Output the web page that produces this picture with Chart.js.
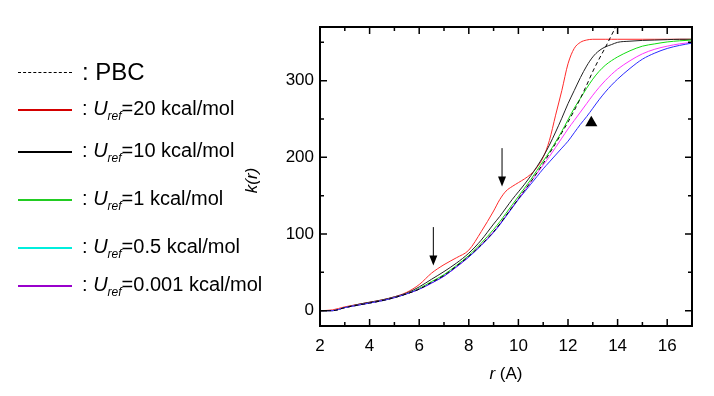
<!DOCTYPE html>
<html>
<head>
<meta charset="utf-8">
<script src="https://cdn.jsdelivr.net/npm/chart.js@4"></script>
<style>
  html, body { margin: 0; padding: 0; background: #fff; }
  #wrap { position: relative; width: 714px; height: 396px; }
  #chart { position: absolute; left: 0; top: 0; }
  .leg { position: absolute; left: 18px; display: flex; align-items: center; height: 26px;
         font-family: "Liberation Sans", Arial, sans-serif; font-size: 20px; color: #000; white-space: nowrap; }
  .leg .sw { width: 54px; height: 0; border-top: 2px solid; margin-right: 10px; }
  .leg .sw.dash { border-top: 1px dashed #000; }
  .leg i sub { font-size: 12px; vertical-align: -5px; }
</style>
</head>
<body>
<div id="wrap">
  <canvas id="chart" width="714" height="396"></canvas>
  <div id="legend"></div>
</div>
<script>
// k(r) curves for different U_ref values

const rValues = [2, 2.5, 3, 3.5, 4, 4.5, 5, 5.5, 6, 6.5, 7, 7.5, 8, 8.5, 9,
  9.25, 9.5, 9.75, 10, 10.25, 10.5, 10.75, 11, 11.25, 11.5, 11.75, 12, 12.25, 12.5, 12.75,
  13, 13.25, 13.5, 13.75, 14, 14.5, 15, 15.5, 16, 16.5, 17];

const kPBC = [0, 0, 4, 7, 10, 13, 17, 22, 28, 37, 46, 58, 71, 86, 103,
  113, 124, 135, 146, 157, 168, 180, 192, 205, 218, 232, 246, 261, 277, 294,
  312, 328, 343, 359, 375, null, null, null, null, null, null];
const kU20 = [0, 1, 5, 8, 11, 14, 18, 24, 34, 49, 60, 69, 79, 103, 130,
  145, 156, 162, 167, 172, 178, 187, 200, 222, 255, 287, 322, 342, 350, 353,
  354, 354, 354, 354, 354, 354, 354, 354, 354, 354, 354];
const kU10 = [0, 0, 4, 8, 11, 14, 18, 23, 31, 41, 51, 62, 75, 92, 113,
  123, 134, 145, 155, 165, 176, 188, 201, 216, 233, 251, 270, 287, 304, 319,
  331, 339, 344, 347, 350, 351.5, 352.5, 353, 353.5, 354, 354];
const kU1 = [0, 0, 4, 7, 10, 13, 17, 22, 29, 38, 47, 59, 72, 88, 106,
  116, 127, 138, 149, 160, 171, 183, 195, 207, 220, 234, 249, 264, 277, 290,
  302, 312, 320, 326, 331, 339, 345, 348, 350.5, 352, 353];
const kU05 = [0, 0, 4, 7, 10, 13, 17, 22, 28, 36, 45, 57, 70, 86, 103,
  113, 124, 135, 146, 157, 168, 179, 190, 201, 213, 225, 237, 248, 259, 270,
  281, 291, 300, 308, 315, 326, 335, 341, 345, 348, 350];
const kU0001 = [0, 0, 4, 7, 10, 13, 17, 22, 28, 36, 45, 57, 70, 85, 102,
  112, 123, 134, 145, 155, 165, 175, 185, 194, 203, 212, 221, 232, 243, 253,
  264, 275, 285, 294, 302, 316, 328, 336, 342, 346, 349];

// arrows (r, top of shaft, tip) and the triangle marker
const arrowR = [6.57, 9.34];
const arrowTop = [109, 212];
const arrowTip = [59, 162];
const markerR = [12.94];
const markerK = [245];

const legendItems = [
  { color: "#000", dash: true, text: "PBC" },
  { color: "#d40000", value: "20" },
  { color: "#000000", value: "10" },
  { color: "#22cc22", value: "1" },
  { color: "#00eedd", value: "0.5" },
  { color: "#9900cc", value: "0.001" },
];
const legendY = [72, 110, 152, 200, 248, 286];

const FONT = '"Liberation Sans", Arial, sans-serif';

function pts(ks) {
  return rValues.map((r, i) => ({ x: r, y: ks[i] }));
}

function line(label, ks, color, dash) {
  return {
    type: "line",
    label,
    data: pts(ks),
    borderColor: color,
    borderWidth: 1,
    borderDash: dash || [],
    pointRadius: 0,
    cubicInterpolationMode: "monotone",
    spanGaps: false,
    fill: false,
  };
}

// html legend (rich text with subscripts)
const legendEl = document.getElementById("legend");
legendItems.forEach((item, i) => {
  const div = document.createElement("div");
  div.className = "leg";
  div.style.top = legendY[i] - 13 + "px";
  const sw = document.createElement("span");
  sw.className = item.dash ? "sw dash" : "sw";
  if (!item.dash) sw.style.borderTopColor = item.color;
  div.appendChild(sw);
  const txt = document.createElement("span");
  if (item.dash) {
    txt.style.fontSize = "24px";
    txt.textContent = ": PBC";
  } else {
    txt.innerHTML = ": <i>U<sub>ref</sub></i>=" + item.value + " kcal/mol";
  }
  div.appendChild(txt);
  legendEl.appendChild(div);
});

const frameTicks = {
  id: "frameTicks",
  afterDraw(chart) {
    const { ctx, chartArea: a, scales } = chart;
    ctx.save();
    ctx.strokeStyle = "#000";
    ctx.lineWidth = 1.5;
    scales.x.ticks.forEach((t) => {
      const px = scales.x.getPixelForValue(t.value);
      const len = t.value % 2 === 0 ? 7 : 4;
      ctx.beginPath();
      ctx.moveTo(px, a.bottom); ctx.lineTo(px, a.bottom - len);
      ctx.moveTo(px, a.top); ctx.lineTo(px, a.top + len);
      ctx.stroke();
    });
    scales.y.ticks.forEach((t) => {
      const py = scales.y.getPixelForValue(t.value);
      const len = t.value % 100 === 0 ? 7 : 4;
      ctx.beginPath();
      ctx.moveTo(a.left, py); ctx.lineTo(a.left + len, py);
      ctx.moveTo(a.right, py); ctx.lineTo(a.right - len, py);
      ctx.stroke();
    });
    ctx.lineWidth = 2;
    ctx.strokeRect(a.left, a.top, a.right - a.left, a.bottom - a.top);

    // arrows
    ctx.lineWidth = 1;
    ctx.fillStyle = "#000";
    arrowR.forEach((r, i) => {
      const px = scales.x.getPixelForValue(r);
      const y1 = scales.y.getPixelForValue(arrowTop[i]);
      const y2 = scales.y.getPixelForValue(arrowTip[i]);
      ctx.beginPath();
      ctx.moveTo(px, y1); ctx.lineTo(px, y2 - 8);
      ctx.stroke();
      ctx.beginPath();
      ctx.moveTo(px - 4, y2 - 10); ctx.lineTo(px + 4, y2 - 10); ctx.lineTo(px, y2);
      ctx.closePath();
      ctx.fill();
    });

    // axis titles
    ctx.fillStyle = "#000";
    ctx.textBaseline = "middle";
    ctx.font = "italic 17px " + FONT;
    const rW = ctx.measureText("r").width;
    ctx.font = "17px " + FONT;
    const restW = ctx.measureText(" (A)").width;
    const cx = (a.left + a.right) / 2;
    const startX = cx - (rW + restW) / 2;
    ctx.textAlign = "left";
    ctx.font = "italic 17px " + FONT;
    ctx.fillText("r", startX, 374);
    ctx.font = "17px " + FONT;
    ctx.fillText(" (A)", startX + rW, 374);

    ctx.translate(252, (a.top + a.bottom) / 2 + 4);
    ctx.rotate(-Math.PI / 2);
    ctx.textAlign = "center";
    ctx.font = "italic 17px " + FONT;
    ctx.fillText("k(r)", 0, 0);
    ctx.restore();
  },
};

new Chart(document.getElementById("chart"), {
  type: "line",
  data: {
    datasets: [
      line("PBC", kPBC, "#000000", [4, 3]),
      line("Uref=0.001 kcal/mol", kU0001, "#2a2aff"),
      line("Uref=0.5 kcal/mol", kU05, "#ff33ff"),
      line("Uref=1 kcal/mol", kU1, "#11dd11"),
      line("Uref=10 kcal/mol", kU10, "#222222"),
      line("Uref=20 kcal/mol", kU20, "#ff2a2a"),
      {
        type: "scatter",
        label: "marker",
        data: markerR.map((r, i) => ({ x: r, y: markerK[i] })),
        pointStyle: "triangle",
        pointRadius: 7,
        backgroundColor: "#000",
        borderColor: "#000",
        borderWidth: 0,
      },
    ],
  },
  options: {
    responsive: false,
    animation: false,
    events: [],
    layout: {
      padding: { left: 270, top: 27, right: 22, bottom: 0 },
    },
    plugins: {
      legend: { display: false },
      tooltip: { enabled: false },
    },
    scales: {
      x: {
        type: "linear",
        min: 2,
        max: 17,
        afterFit: (scale) => { scale.height = 70; },
        ticks: {
          stepSize: 1,
          color: "#000",
          padding: 10,
          maxRotation: 0,
          autoSkip: false,
          font: { family: FONT, size: 17 },
          callback: (v) => (v % 2 === 0 && v < 17 ? v : ""),
        },
        grid: { display: false, drawTicks: false },
        border: { display: false },
      },
      y: {
        type: "linear",
        min: -20,
        max: 370,
        afterFit: (scale) => { scale.width = 50; },
        afterBuildTicks: (scale) => {
          scale.ticks = [0, 50, 100, 150, 200, 250, 300, 350].map((v) => ({ value: v }));
        },
        ticks: {
          color: "#000",
          padding: 6,
          font: { family: FONT, size: 17 },
          callback: (v) => (v % 100 === 0 ? v : ""),
        },
        grid: { display: false, drawTicks: false },
        border: { display: false },
      },
    },
  },
  plugins: [frameTicks],
});
</script>
</body>
</html>
